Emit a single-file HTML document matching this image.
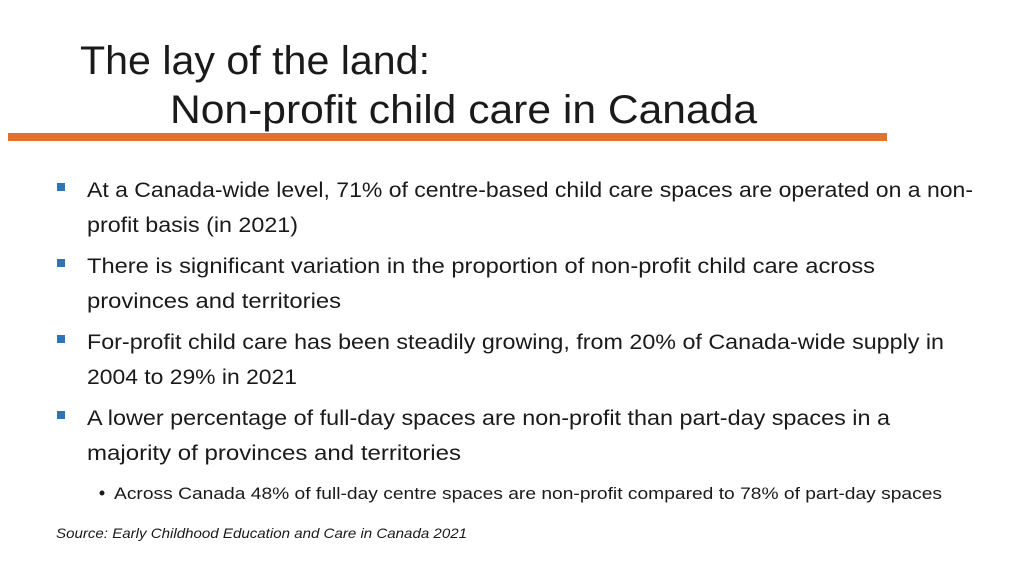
<!DOCTYPE html>
<html><head><meta charset="utf-8"><style>
html,body{margin:0;padding:0;background:#fff;}
svg{display:block;font-family:"Liberation Sans",sans-serif;}
</style></head><body>
<svg width="1024" height="576" viewBox="0 0 1024 576">
<rect width="1024" height="576" fill="#fff"/>
<text x="80" y="74" font-size="40" fill="#1a1a1a" textLength="350" lengthAdjust="spacingAndGlyphs">The lay of the land:</text>
<text x="170" y="123" font-size="40" fill="#1a1a1a" textLength="587" lengthAdjust="spacingAndGlyphs">Non-profit child care in Canada</text>
<rect x="8" y="133" width="879" height="8" fill="#E5702A"/>
<g fill="#2E75B6">
<rect x="57" y="183" width="8" height="8"/>
<rect x="57" y="259" width="8" height="8"/>
<rect x="57" y="335" width="8" height="8"/>
<rect x="57" y="411" width="8" height="8"/>
</g>
<g font-size="21" fill="#1a1a1a" lengthAdjust="spacingAndGlyphs">
<text x="87" y="197" textLength="886" lengthAdjust="spacingAndGlyphs">At a Canada-wide level, 71% of centre-based child care spaces are operated on a non-</text>
<text x="87" y="232" textLength="211" lengthAdjust="spacingAndGlyphs">profit basis (in 2021)</text>
<text x="87" y="273" textLength="788" lengthAdjust="spacingAndGlyphs">There is significant variation in the proportion of non-profit child care across</text>
<text x="87" y="308" textLength="254" lengthAdjust="spacingAndGlyphs">provinces and territories</text>
<text x="87" y="349" textLength="857" lengthAdjust="spacingAndGlyphs">For-profit child care has been steadily growing, from 20% of Canada-wide supply in</text>
<text x="87" y="384" textLength="210" lengthAdjust="spacingAndGlyphs">2004 to 29% in 2021</text>
<text x="87" y="425" textLength="803" lengthAdjust="spacingAndGlyphs">A lower percentage of full-day spaces are non-profit than part-day spaces in a</text>
<text x="87" y="460" textLength="374" lengthAdjust="spacingAndGlyphs">majority of provinces and territories</text>
</g>
<circle cx="102" cy="493" r="2.5" fill="#1a1a1a"/>
<text x="114" y="499" font-size="17" fill="#1a1a1a" textLength="828" lengthAdjust="spacingAndGlyphs">Across Canada 48% of full-day centre spaces are non-profit compared to 78% of part-day spaces</text>
<text x="56" y="538" font-size="14" font-style="italic" fill="#1a1a1a" textLength="411" lengthAdjust="spacingAndGlyphs">Source: Early Childhood Education and Care in Canada 2021</text>
</svg>
</body></html>
